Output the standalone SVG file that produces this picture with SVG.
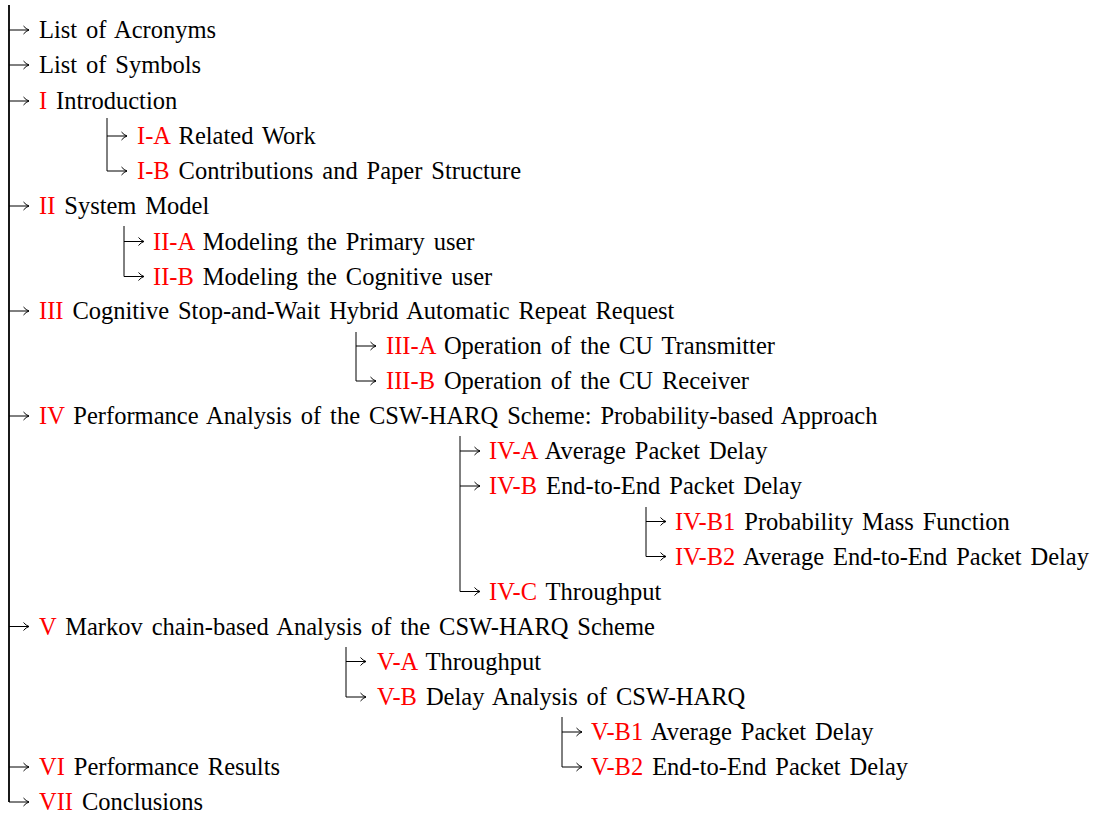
<svg xmlns="http://www.w3.org/2000/svg" width="1095" height="817" viewBox="0 0 1095 817">
<style>
text{font-family:"Liberation Serif","Times New Roman",serif;font-size:24.5px;word-spacing:2.8px;fill:#000}
.r{fill:#ff0000}
.c{fill:none;stroke:#000;stroke-width:1}
.t{fill:none;stroke:#000;stroke-width:1.8}
</style>
<defs>
<marker id="ah" markerUnits="userSpaceOnUse" viewBox="0 0 8 10" markerWidth="8" markerHeight="10" refX="7" refY="5" orient="auto">
<path d="M1.5,1 Q4,4 7,5 Q4,6 1.5,9" fill="none" stroke="#000" stroke-width="1"/>
</marker>
</defs>
<rect width="1095" height="817" fill="#fff"/>
<g id="connectors">
<path class="t" d="M9,5 V802"/>
<path class="c" d="M9,30 H29" marker-end="url(#ah)"/>
<path class="c" d="M9,65 H29" marker-end="url(#ah)"/>
<path class="c" d="M9,101 H29" marker-end="url(#ah)"/>
<path class="c" d="M9,206 H29" marker-end="url(#ah)"/>
<path class="c" d="M9,311 H29" marker-end="url(#ah)"/>
<path class="c" d="M9,416 H29" marker-end="url(#ah)"/>
<path class="c" d="M9,626.5 H29" marker-end="url(#ah)"/>
<path class="c" d="M9,767 H29" marker-end="url(#ah)"/>
<path class="c" d="M9,802 H29" marker-end="url(#ah)"/>
<path class="c" d="M107,118 V171 H127" marker-end="url(#ah)"/>
<path class="c" d="M107,136 H127" marker-end="url(#ah)"/>
<path class="c" d="M124,226 V276.5 H144" marker-end="url(#ah)"/>
<path class="c" d="M124,241.5 H144" marker-end="url(#ah)"/>
<path class="c" d="M356,332 V381 H376" marker-end="url(#ah)"/>
<path class="c" d="M356,346 H376" marker-end="url(#ah)"/>
<path class="c" d="M460,436 V591.5 H480" marker-end="url(#ah)"/>
<path class="c" d="M460,451 H480" marker-end="url(#ah)"/>
<path class="c" d="M460,486 H480" marker-end="url(#ah)"/>
<path class="c" d="M646,507 V556.5 H666" marker-end="url(#ah)"/>
<path class="c" d="M646,521.5 H666" marker-end="url(#ah)"/>
<path class="c" d="M346,647 V697 H366" marker-end="url(#ah)"/>
<path class="c" d="M346,661.5 H366" marker-end="url(#ah)"/>
<path class="c" d="M562,717 V767 H582" marker-end="url(#ah)"/>
<path class="c" d="M562,732 H582" marker-end="url(#ah)"/>
</g>
<g id="n-acronyms"><text x="39" y="38">List of Acronyms</text></g>
<g id="n-symbols"><text x="39" y="73">List of Symbols</text></g>
<g id="n-I"><text x="39" y="109"><tspan class="r">I</tspan> Introduction</text></g>
<g id="n-IA"><text x="137" y="144"><tspan class="r">I-A</tspan> Related Work</text></g>
<g id="n-IB"><text x="137" y="179"><tspan class="r">I-B</tspan> Contributions and Paper Structure</text></g>
<g id="n-II"><text x="39" y="214"><tspan class="r">II</tspan> System Model</text></g>
<g id="n-IIA"><text x="153" y="249.5"><tspan class="r">II-A</tspan> Modeling the Primary user</text></g>
<g id="n-IIB"><text x="153" y="284.5"><tspan class="r">II-B</tspan> Modeling the Cognitive user</text></g>
<g id="n-III"><text x="39" y="319"><tspan class="r">III</tspan> Cognitive Stop-and-Wait Hybrid Automatic Repeat Request</text></g>
<g id="n-IIIA"><text x="386" y="354"><tspan class="r">III-A</tspan> Operation of the CU Transmitter</text></g>
<g id="n-IIIB"><text x="386" y="389"><tspan class="r">III-B</tspan> Operation of the CU Receiver</text></g>
<g id="n-IV"><text x="39" y="424"><tspan class="r">IV</tspan> Performance Analysis of the CSW-HARQ Scheme: Probability-based Approach</text></g>
<g id="n-IVA"><text x="489" y="459"><tspan class="r">IV-A</tspan> Average Packet Delay</text></g>
<g id="n-IVB"><text x="489" y="494"><tspan class="r">IV-B</tspan> End-to-End Packet Delay</text></g>
<g id="n-IVB1"><text x="675" y="529.5"><tspan class="r">IV-B1</tspan> Probability Mass Function</text></g>
<g id="n-IVB2"><text x="675" y="564.5"><tspan class="r">IV-B2</tspan> Average End-to-End Packet Delay</text></g>
<g id="n-IVC"><text x="489" y="599.5"><tspan class="r">IV-C</tspan> Throughput</text></g>
<g id="n-V"><text x="39" y="634.5"><tspan class="r">V</tspan> Markov chain-based Analysis of the CSW-HARQ Scheme</text></g>
<g id="n-VA"><text x="377" y="669.5"><tspan class="r">V-A</tspan> Throughput</text></g>
<g id="n-VB"><text x="377" y="705"><tspan class="r">V-B</tspan> Delay Analysis of CSW-HARQ</text></g>
<g id="n-VB1"><text x="591" y="740"><tspan class="r">V-B1</tspan> Average Packet Delay</text></g>
<g id="n-VB2"><text x="591" y="775"><tspan class="r">V-B2</tspan> End-to-End Packet Delay</text></g>
<g id="n-VI"><text x="39" y="775"><tspan class="r">VI</tspan> Performance Results</text></g>
<g id="n-VII"><text x="39" y="810"><tspan class="r">VII</tspan> Conclusions</text></g>
</svg>
